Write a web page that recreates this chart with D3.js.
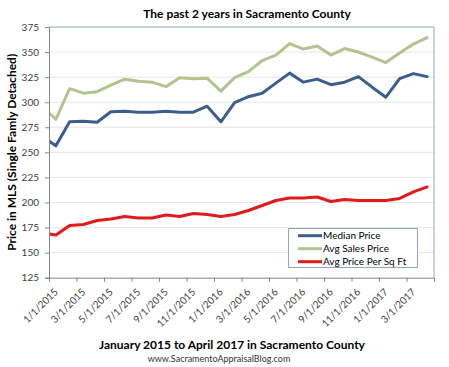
<!DOCTYPE html>
<html>
<head>
<meta charset="utf-8">
<script src="https://cdn.jsdelivr.net/npm/d3@7/dist/d3.min.js"></script>
<style>
  html, body { margin: 0; padding: 0; background: #ffffff; }
  svg { display: block; font-family: Lato, "Open Sans", sans-serif; }
</style>
</head>
<body>
<svg id="chart" width="449" height="367"></svg>
<script>
// Month index: -1 = Dec 2014 (partly outside the axis), 0 = Jan 2015 ... 27 = Apr 2017
const monthIndex = [-1,0,1,2,3,4,5,6,7,8,9,10,11,12,13,14,15,16,17,18,19,20,21,22,23,24,25,26,27];
const medianPrice = [266,256.5,280.5,281,280,290.5,291,290,290,291,290,290,296,280.5,299.5,305.5,309,319,329,320,323,317.5,320,325.5,315,305,323.5,328.5,325.5];
const avgSalesPrice = [296,283,313.5,309,310.5,317,323,321,320,315.5,324.5,323.5,324,311,324.5,330.5,341.5,347,358.5,353,356,347,353.5,350,345,339.5,349,358,364.5];
const avgPricePerSqFt = [169.6,167.6,177,178,182,183.5,186,184.5,184.5,187.5,186,189,188,186,188,192,197,202,204.5,204.5,205.5,201,203,202,202,202,204,210.5,215.5];
const seriesNames = ["Median Price","Avg Sales Price","Avg Price Per Sq Ft"];
const seriesColors = ["#3b5e8c","#b2c48e","#e01b1b"];
const xTickLabels = ["1/1/2015","3/1/2015","5/1/2015","7/1/2015","9/1/2015","11/1/2015","1/1/2016","3/1/2016","5/1/2016","7/1/2016","9/1/2016","11/1/2016","1/1/2017","3/1/2017",""];
const yTicks = [125,150,175,200,225,250,275,300,325,350,375];
const titleText = "The past 2 years in Sacramento County";
const yAxisTitle = "Price in MLS (Single Famly Detached)";
const xAxisTitle = "January 2015 to April 2017 in Sacramento County";
const sourceText = "www.SacramentoAppraisalBlog.com";

const svg = d3.select("#chart");
const L = 49, R = 434, T = 27, B = 277.7;

const x = d3.scaleLinear().domain([0, 28]).range([L, R]);       // month slots
const y = d3.scaleLinear().domain([125, 375]).range([B, T]);

// gridlines
svg.append("g").selectAll("line").data(yTicks.filter(v => v > 125 && v < 375)).join("line")
  .attr("x1", L).attr("x2", R).attr("y1", d => y(d)).attr("y2", d => y(d))
  .attr("stroke", "#e6e6e6").attr("stroke-width", 1);

// plot border (top/right)
svg.append("path")
  .attr("d", `M${L},${T}H${R}V${B}`)
  .attr("fill", "none").attr("stroke", "#94a5bf").attr("stroke-width", 1);

// clip
svg.append("clipPath").attr("id", "plotclip").append("rect")
  .attr("x", L).attr("y", T - 5).attr("width", R - L).attr("height", B - T + 10);

// lines
const allSeries = [medianPrice, avgSalesPrice, avgPricePerSqFt];
const line = d3.line().x((d, i) => x(monthIndex[i] + 0.5)).y(d => y(d));
const lg = svg.append("g").attr("clip-path", "url(#plotclip)");
allSeries.forEach((s, k) => {
  lg.append("path").datum(s).attr("d", line)
    .attr("fill", "none").attr("stroke", seriesColors[k]).attr("stroke-width", 3)
    .attr("stroke-linejoin", "round").attr("stroke-linecap", "round");
});

// y axis
const yAxis = d3.axisLeft(y).tickValues(yTicks).tickSize(4).tickPadding(6).tickFormat(d3.format("d"));
const gy = svg.append("g").attr("transform", `translate(${L},0)`).call(yAxis);
gy.select(".domain").attr("stroke", "#868686");
gy.selectAll(".tick line").attr("stroke", "#868686");
gy.selectAll(".tick text").attr("fill", "#404040").style("font-size", "10px").style("font-family", "Lato");

// x axis
const xt = d3.scaleLinear().domain([0, 14]).range([L, R]);
const xAxis = d3.axisBottom(xt).tickValues(d3.range(15)).tickSize(4).tickFormat(i => xTickLabels[i]);
const gx = svg.append("g").attr("transform", `translate(0,${B})`).call(xAxis);
gx.select(".domain").attr("stroke", "#868686").attr("d", `M${L},0.5H${R}`);
gx.selectAll(".tick line").attr("stroke", "#868686");
gx.selectAll(".tick text")
  .attr("fill", "#404040").style("font-size", "10px").style("font-family", "Lato")
  .attr("text-anchor", "end").attr("y", 0).attr("dy", 0)
  .attr("transform", "translate(9,15) rotate(-45)");

// titles
svg.append("text").attr("x", 247).attr("y", 18).attr("text-anchor", "middle")
  .style("font-size", "12px").style("font-weight", "bold").attr("fill", "#000")
  .text(titleText);
svg.append("text").attr("transform", `translate(16,${(T + B) / 2}) rotate(-90)`)
  .attr("text-anchor", "middle").style("font-size", "12px").style("font-weight", "bold").attr("fill", "#000")
  .text(yAxisTitle);
svg.append("text").attr("x", 232).attr("y", 349).attr("text-anchor", "middle")
  .style("font-size", "12px").style("font-weight", "bold").attr("fill", "#000")
  .text(xAxisTitle);
svg.append("text").attr("x", 219).attr("y", 362).attr("text-anchor", "middle")
  .style("font-size", "9px").attr("fill", "#333")
  .text(sourceText);

// legend
const leg = svg.append("g");
leg.append("rect").attr("x", 288.5).attr("y", 228.5).attr("width", 129).attr("height", 39)
  .attr("fill", "#fff").attr("stroke", "#94a5bf").attr("stroke-width", 1);
seriesNames.forEach((n, k) => {
  const yy = 235.7 + k * 13;
  leg.append("line").attr("x1", 298).attr("x2", 322).attr("y1", yy).attr("y2", yy)
    .attr("stroke", seriesColors[k]).attr("stroke-width", 3);
  leg.append("text").attr("x", 323).attr("y", yy + 3.5)
    .style("font-size", "10px").attr("fill", "#000").text(n);
});
</script>
</body>
</html>
